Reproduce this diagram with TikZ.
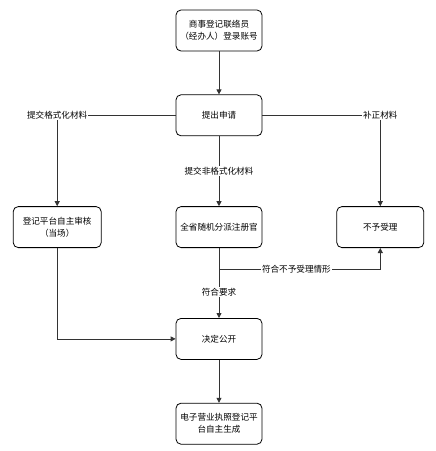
\documentclass[tikz,border=0pt]{standalone}
\usepackage{fontspec}
\setmainfont{Noto Sans CJK SC}
\usetikzlibrary{arrows.meta, positioning}
\definecolor{FlowLine}{RGB}{51, 51, 51}

\begin{document}
\begin{tikzpicture}[node distance=43pt, line width=0.8pt,
    font=\fontsize{8.6}{12}\selectfont,
    box/.style={draw, rounded corners=5pt, minimum width=86pt, minimum height=41pt, align=center, inner sep=2pt},
    flow/.style={draw=FlowLine, -{Triangle[width=5pt, length=5pt]}},
    lbl/.style={fill=white, inner sep=1pt}]
        \useasboundingbox (0,0) rectangle (436pt,-451pt);

        \node[box] (login) at (219pt,-30.5pt) {商事登记联络员\\（经办人）登录账号};
        \node[box, below=of login] (apply) {提出申请};
        \node[box, below=70pt of apply] (assign) {全省随机分派注册官};
        \node[box, minimum width=88pt, left=74pt of assign] (selfcheck) {登记平台自主审核\\（当场）};
        \node[box, minimum width=87pt, right=74pt of assign] (reject) {不予受理};
        \node[box, below=70pt of assign] (decide) {决定公开};
        \node[box, below=of decide] (license) {电子营业执照登记平\\台自主生成};
        \coordinate[below=21pt of assign] (split);

        \draw[flow] (login) -- (apply);
        \draw[flow] (apply) -| node[lbl, pos=0.5] {提交格式化材料} (selfcheck);
        \draw[flow] (apply) -| node[lbl, pos=0.5] {补正材料} (reject);
        \draw[flow] (apply) -- node[lbl] {提交非格式化材料} (assign);
        \draw[flow] (assign) -- node[lbl, pos=0.63] {符合要求} (decide);
        \draw[flow] (split) -| node[lbl, pos=0.24] {符合不予受理情形} (reject);
        \draw[flow] (selfcheck) |- (decide);
        \draw[flow] (decide) -- (license);
    \end{tikzpicture}
\end{document}
